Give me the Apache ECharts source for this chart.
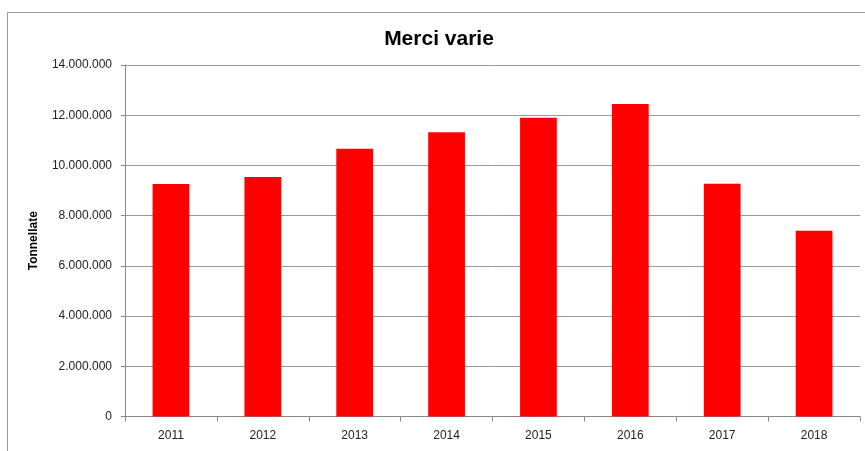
<!DOCTYPE html>
<html>
<head>
<meta charset="utf-8">
<script src="https://cdn.jsdelivr.net/npm/echarts@6/dist/echarts.min.js"></script>
<style>
html,body{margin:0;padding:0;background:#fff;}
#chart{width:865px;height:451px;}
</style>
</head>
<body>
<div id="chart"></div>
<script>
const categories = ['2011','2012','2013','2014','2015','2016','2017','2018'];
const values = [9260000, 9540000, 10660000, 11320000, 11900000, 12450000, 9270000, 7400000];
const titleText = 'Merci varie';
const yAxisName = 'Tonnellate';

function fmt(v){
  return String(v).replace(/\B(?=(\d{3})+(?!\d))/g, '.');
}

const chart = echarts.init(document.getElementById('chart'), null, {renderer:'canvas'});
chart.setOption({
  animation:false,
  backgroundColor:'#ffffff',
  graphic:[{
    type:'rect',
    shape:{x:7.5,y:12.5,width:900,height:500},
    style:{fill:'none',stroke:'#9a9a9a',lineWidth:1},
    silent:true
  }],
  title:{
    text:titleText,
    left:434,
    textAlign:'center',
    top:24,
    textStyle:{fontFamily:'Liberation Sans, Arial, sans-serif',fontSize:21,fontWeight:'bold',color:'#000'}
  },
  grid:{left:125,top:65,width:735,height:351.5,containLabel:false},
  xAxis:{
    type:'category',
    data:categories,
    axisLine:{lineStyle:{color:'#888',width:1}},
    axisTick:{show:true,alignWithLabel:false,length:5,inside:false,lineStyle:{color:'#888'}},
    axisLabel:{margin:13,fontFamily:'Liberation Sans, Arial, sans-serif',fontSize:12,color:'#222'},
    splitLine:{show:false}
  },
  yAxis:{
    type:'value',
    min:0,max:14000000,interval:2000000,
    name:yAxisName,
    nameLocation:'middle',
    nameGap:85,
    nameRotate:90,
    nameTextStyle:{fontFamily:'Liberation Sans, Arial, sans-serif',fontSize:12,fontWeight:'bold',color:'#000'},
    axisLine:{show:true,lineStyle:{color:'#888',width:1}},
    axisTick:{show:true,length:4,lineStyle:{color:'#888'}},
    axisLabel:{margin:13,formatter:fmt,fontFamily:'Liberation Sans, Arial, sans-serif',fontSize:12,color:'#222'},
    splitLine:{show:true,lineStyle:{color:'#999',width:1}}
  },
  series:[{
    type:'bar',
    data:values,
    barWidth:'40%',
    itemStyle:{color:'#ff0000'}
  }]
});
</script>
</body>
</html>
